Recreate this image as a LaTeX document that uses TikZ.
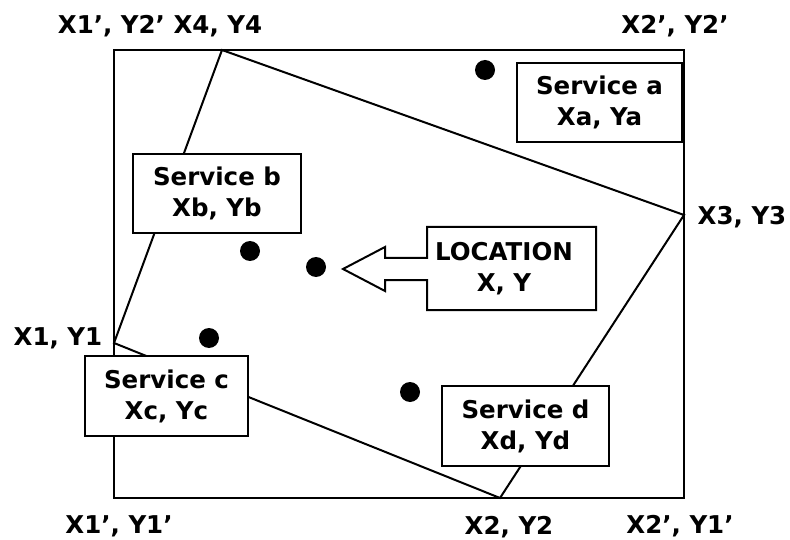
\documentclass[tikz,border=0pt]{standalone}
\usepackage{fontspec}
\setmainfont{DejaVu Sans}
\begin{document}
\begin{tikzpicture}[x=1pt,y=-1pt,
  every node/.style={font=\bfseries\fontsize{24.5}{31}\selectfont},
  lbl/.style={anchor=base, inner sep=0pt},
  svc/.style={draw, line width=2pt, fill=white, align=center, inner sep=0pt},
  dot/.style={fill=black, circle, minimum size=20pt, inner sep=0pt},
  ln/.style={line width=2pt}]
\useasboundingbox (0,0) rectangle (790,540);
% outer rectangle
\coordinate (o1) at (114,50);
\coordinate (o2) at (684,50);
\coordinate (o3) at (684,498);
\coordinate (o4) at (114,498);
\draw[ln] (o1) -- (o2) -- (o3) -- (o4) -- cycle;
% rotated rectangle
\coordinate (p4) at (222,50);
\coordinate (p3) at (684,215);
\coordinate (p2) at (500,498);
\coordinate (p1) at (114,343);
\draw[ln, line join=miter] (p1) -- (p4) -- (p3) -- (p2) -- cycle;
% services
\node[svc, minimum width=165pt, minimum height=79pt] (sa) at (599.5,102.5) {Service a\\Xa, Ya};
\node[svc, minimum width=168pt, minimum height=79pt] (sb) at (217,193.5) {Service b\\Xb, Yb};
\node[svc, minimum width=163pt, minimum height=80pt] (sc) at (166.5,396) {Service c\\Xc, Yc};
\node[svc, minimum width=167pt, minimum height=80pt] (sd) at (525.5,426) {Service d\\Xd, Yd};
% location callout arrow
\coordinate (a1) at (427,227);
\coordinate (a2) at (596,227);
\coordinate (a3) at (596,310);
\coordinate (a4) at (427,310);
\coordinate (a5) at (427,280);
\coordinate (a6) at (385,280);
\coordinate (a7) at (385,291);
\coordinate (tip) at (343,269);
\coordinate (a9) at (385,247);
\coordinate (a10) at (385,258);
\coordinate (a11) at (427,258);
\draw[ln, fill=white, line join=miter] (a1) -- (a2) -- (a3) -- (a4) -- (a5) -- (a6) -- (a7) -- (tip) -- (a9) -- (a10) -- (a11) -- cycle;
\node[align=center, inner sep=0pt] (loc) at (504,268.5) {LOCATION\\X, Y};
% dots
\node[dot] (d1) at (485,70) {};
\node[dot] (d2) at (250,251) {};
\node[dot] (d3) at (316,267) {};
\node[dot] (d4) at (209,338) {};
\node[dot] (d5) at (410,392) {};
% corner labels
\node[lbl] (l1) at (160,34) {X1’, Y2’ X4, Y4};
\node[lbl] (l2) at (675,34) {X2’, Y2’};
\node[lbl] (l3) at (742,225) {X3, Y3};
\node[lbl] (l4) at (58,345) {X1, Y1};
\node[lbl] (l5) at (119,533) {X1’, Y1’};
\node[lbl] (l6) at (509,534) {X2, Y2};
\node[lbl] (l7) at (680,533) {X2’, Y1’};
\end{tikzpicture}
\end{document}
